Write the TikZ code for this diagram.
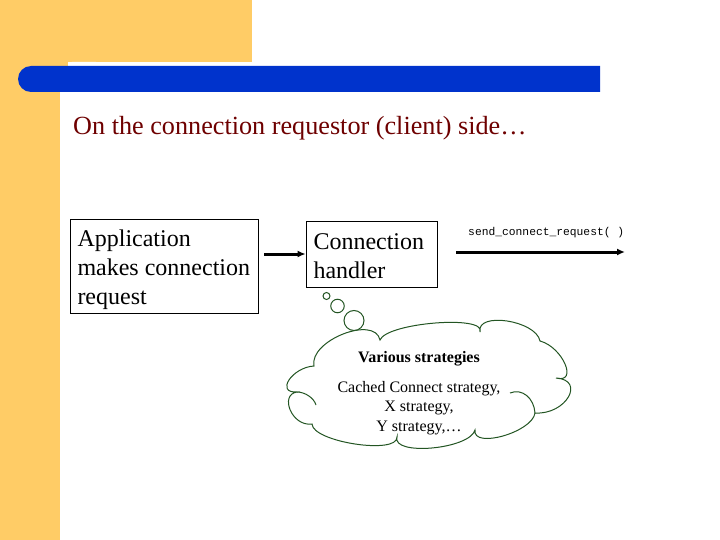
\documentclass[tikz,border=0pt]{standalone}
\usepackage{fontspec}
\setmainfont{Liberation Serif}
\newfontfamily\codefont{Liberation Mono}
\usetikzlibrary{positioning,arrows.meta}
\definecolor{slideorange}{RGB}{255,204,102}
\definecolor{slideblue}{RGB}{0,51,204}
\definecolor{titlered}{RGB}{110,0,0}
\definecolor{cloudgreen}{RGB}{35,85,35}

\begin{document}
\begin{tikzpicture}[x=1pt, y=-1pt,
    box/.style={draw, line width=0.8pt, align=flush left, inner xsep=7.5pt, inner ysep=0pt, font=\fontsize{24}{29}\selectfont},
    arr/.style={-{Latex[length=8pt,width=7pt]}, line width=3pt},
    bubble/.style={draw=cloudgreen, circle, line width=1pt, inner sep=0pt, fill=white},
    cloudline/.style={draw=cloudgreen, line width=1pt}]
        \useasboundingbox (0,0) rectangle (720,540);
        % Slide background
        \fill[slideorange] (0,0) rectangle (252,62);
        \fill[slideorange] (0,0) rectangle (68,92);
        \fill[slideorange] (0,0) rectangle (60,540);
        \fill[white, rounded corners=4pt] (68,62) rectangle (100,80);
        \fill[slideblue] (600,66) -- (31,66) arc[start angle=90, end angle=270, radius=13pt] -- (600,92) -- cycle;

        % Title
        \node (title) [anchor=west, inner sep=0pt, text=titlered, font=\fontsize{26.2}{31}\selectfont] at (73,128)
        {On the connection requestor (client) side…};

        % Boxes
        \node (app) [box, text width=173pt, minimum height=94pt] at (164,266)
        {\rule{0pt}{24pt}Application\\ makes connection\\ request};
        \node (handler) [box, text width=116pt, minimum height=66pt] at (371.5,254)
        {\rule{0pt}{20pt}Connection\\ handler};
        \coordinate (reqend) at (625,252);

        % Arrows
        \draw[arr, shorten <=6pt] (app.east |- handler.west) -- (handler.west);
        \draw[arr, shorten <=19pt] (handler.east |- reqend) -- (reqend)
        node[pos=0.58, above=13pt, inner sep=0pt, font=\codefont\fontsize{11.3}{13}\selectfont] {send\_connect\_request( )};

        % Thought cloud for the handler
        \draw[cloudline, fill=white] (297,392) .. controls (275,393.3) and (292,367.3) .. (314,366)
          .. controls (308.7,340.7) and (374.7,314.7) .. (380,340)
          .. controls (386.7,322.7) and (486.7,314.7) .. (480,332)
          .. controls (476,311.3) and (536,320.3) .. (540,341)
          .. controls (562.7,347) and (578.7,384) .. (556,378)
          .. controls (586,380) and (566,415) .. (535,413)
          .. controls (532.3,432.3) and (472.3,449.3) .. (475,430)
          .. controls (469.7,449.3) and (391.7,456.3) .. (397,437)
          .. controls (397.7,455) and (312.7,442) .. (312,424)
          .. controls (292,427) and (279,394.7) .. cycle;
        \draw[cloudline] (510,393) .. controls (522,388) and (534,398) .. (535,413);
        \draw[cloudline] (297,392) .. controls (305,392) and (314,398) .. (316,405);
        \node (b1) [bubble, minimum size=7pt] at (326.5,296) {};
        \node (b2) [bubble, minimum size=13.5pt] at (337.5,306) {};
        \node (b3) [bubble, minimum size=20pt] at (354,320.5) {};
        \node (strat) [align=center, inner sep=0pt, font=\fontsize{16}{19.5}\selectfont] at (419,393)
        {\textbf{Various strategies}\\[10pt] Cached Connect strategy,\\ X strategy,\\ Y strategy,…};
      \end{tikzpicture}
\end{document}
